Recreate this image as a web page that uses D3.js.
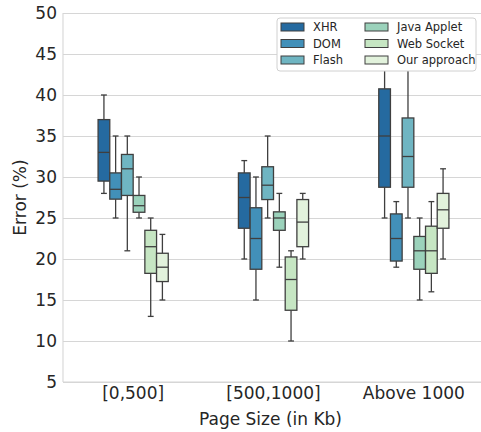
<!DOCTYPE html>
<html>
<head>
<meta charset="utf-8">
<script src="https://cdn.jsdelivr.net/npm/d3@7"></script>
<style>
	body{margin:0;background:#fff}
	text{font-family:"DejaVu Sans",sans-serif;fill:#262626}
</style>
</head>
<body>
<div id="chart"></div>
<script>
// box stats per category: [lower whisker, q1, median, q3, upper whisker]
const categories=['[0,500]','[500,1000]','Above 1000']
const seriesNames=['XHR','DOM','Flash','Java Applet','Web Socket','Our approach']
const xhr=[[28,29.5,33,37,40],[20,23.75,27.5,30.5,32],[25,28.75,35,40.75,48]]
const dom=[[25,27.3,28.5,30.5,35],[15,18.75,22.5,26.25,30],[19,19.75,22.5,25.5,27]]
const flash=[[21,27.75,31,32.75,35],[25,27.25,29,31.25,35],[25,28.75,32.5,37.2,47]]
const javaApplet=[[25,25.7,26.5,27.75,30],[19,23.5,25,25.75,28],[15,18.75,21,22.75,25]]
const webSocket=[[13,18.25,21.5,23.5,25],[10,13.75,17.5,20.25,21],[16,18.25,21,24,27]]
const ourApproach=[[15,17.25,19,20.7,23],[20,21.5,24.5,27.25,28],[20,23.75,26,28,31]]
const seriesValues=[xhr,dom,flash,javaApplet,webSocket,ourApproach]
const yTicks=[5,10,15,20,25,30,35,40,45,50]
const colors=['#256aa0','#4290b9','#6fb5c2','#9bd2bb','#c6e6c3','#e2f2dc']

const W=481,H=432
const margin={top:13,right:-3,bottom:50,left:63}
const width=W-margin.left-margin.right,
	height=H-margin.top-margin.bottom

const svg=d3.select('#chart').append('svg')
	.attr('width',W)
	.attr('height',H)

const g=svg.append('g')
	.attr('transform','translate('+margin.left+','+margin.top+')')

const xScale=d3.scaleBand()
	.domain(categories)
	.range([0,width])

const inner=d3.scaleBand()
	.domain(seriesNames)
	.range([-xScale.bandwidth()/4,xScale.bandwidth()/4])

const yScale=d3.scaleLinear()
	.domain([5,50])
	.range([height,0])

const colorScale=d3.scaleOrdinal(seriesNames,colors)

// grid
g.append('g')
	.attr('class','grid')
	.call(d3.axisLeft(yScale).tickValues(yTicks).tickSize(-width).tickFormat(''))
	.call(s=>s.select('.domain').remove())
	.call(s=>s.selectAll('line').attr('stroke','#d6d6d6').attr('stroke-width',1.1))

// spines
g.append('line').attr('x1',0).attr('x2',0).attr('y1',0).attr('y2',height)
	.attr('stroke','#d6d6d6').attr('stroke-width',1.1)
g.append('line').attr('x1',0).attr('x2',width).attr('y1',height).attr('y2',height)
	.attr('stroke','#d6d6d6').attr('stroke-width',1.1)

// axes
g.append('g')
	.call(d3.axisLeft(yScale).tickValues(yTicks).tickSize(0).tickPadding(6))
	.call(s=>s.select('.domain').remove())
	.call(s=>s.selectAll('text').style('font-size','17px').attr('fill','#262626'))

g.append('g')
	.attr('transform',`translate(0,${height})`)
	.call(d3.axisBottom(xScale).tickSize(0).tickPadding(5))
	.call(s=>s.select('.domain').remove())
	.call(s=>s.selectAll('text').style('font-size','17px').attr('fill','#262626'))

g.append('text')
	.attr('x',width/2-3)
	.attr('y',height+43)
	.attr('text-anchor','middle')
	.style('font-size','17px')
	.text('Page Size (in Kb)')

svg.append('text')
	.attr('transform',`translate(26,${margin.top+height/2}) rotate(-90)`)
	.attr('text-anchor','middle')
	.style('font-size','17px')
	.text('Error (%)')

// boxes
const lineColor='#3f3f3f'
const bw=inner.bandwidth()
const boxes=[]
seriesNames.forEach((name,i)=>{
	categories.forEach((cat,j)=>{
		const v=seriesValues[i][j]
		boxes.push({name,cat,low:v[0],q1:v[1],med:v[2],q3:v[3],high:v[4]})
	})
})

const box=g.selectAll('.box')
	.data(boxes)
	.enter()
	.append('g')
	.attr('class','box')
	.attr('transform',d=>`translate(${xScale(d.cat)+xScale.bandwidth()/2+inner(d.name)},0)`)

box.append('line')
	.attr('x1',bw/2).attr('x2',bw/2)
	.attr('y1',d=>yScale(d.q3)).attr('y2',d=>yScale(d.high))
	.attr('stroke',lineColor).attr('stroke-width',1.3)
box.append('line')
	.attr('x1',bw/2).attr('x2',bw/2)
	.attr('y1',d=>yScale(d.q1)).attr('y2',d=>yScale(d.low))
	.attr('stroke',lineColor).attr('stroke-width',1.3)
box.append('line')
	.attr('x1',bw/4).attr('x2',bw*3/4)
	.attr('y1',d=>yScale(d.high)).attr('y2',d=>yScale(d.high))
	.attr('stroke',lineColor).attr('stroke-width',1.3)
box.append('line')
	.attr('x1',bw/4).attr('x2',bw*3/4)
	.attr('y1',d=>yScale(d.low)).attr('y2',d=>yScale(d.low))
	.attr('stroke',lineColor).attr('stroke-width',1.3)
box.append('rect')
	.attr('x',0)
	.attr('width',bw)
	.attr('y',d=>yScale(d.q3))
	.attr('height',d=>yScale(d.q1)-yScale(d.q3))
	.attr('fill',d=>colorScale(d.name))
	.attr('stroke',lineColor).attr('stroke-width',1.3)
box.append('line')
	.attr('x1',0).attr('x2',bw)
	.attr('y1',d=>yScale(d.med)).attr('y2',d=>yScale(d.med))
	.attr('stroke',lineColor).attr('stroke-width',1.3)

// legend
const legend=svg.append('g')
	.attr('transform','translate(277,18)')
legend.append('rect')
	.attr('width',199).attr('height',53).attr('rx',3)
	.attr('fill','#fff').attr('stroke','#d0d0d0')

const item=legend.selectAll('.item')
	.data(seriesNames)
	.enter()
	.append('g')
	.attr('class','item')
	.attr('transform',(d,i)=>`translate(${i<3?4:88},${9+(i%3)*16.5})`)
item.append('rect')
	.attr('x',0).attr('y',-4).attr('width',23).attr('height',8)
	.attr('fill',d=>colorScale(d))
	.attr('stroke',lineColor).attr('stroke-width',1)
item.append('text')
	.attr('x',32).attr('y',0)
	.attr('dy','0.36em')
	.style('font-size','11.5px')
	.text(d=>d)
</script>
</body>
</html>
